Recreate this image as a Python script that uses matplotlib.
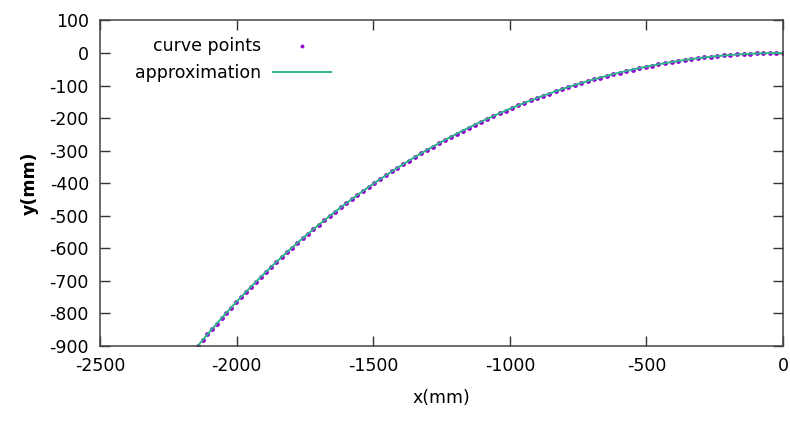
import matplotlib
matplotlib.use("Agg")
import matplotlib.pyplot as plt

# curve points (mm)
x_mm = [0.0, -24.1, -48.2, -72.3, -96.3, -120.4, -144.5, -168.5, -192.6, -216.6,
        -240.6, -264.6, -288.6, -312.5, -336.5, -360.4, -384.3, -408.2, -432.0, -455.9,
        -479.6, -503.4, -527.1, -550.8, -574.5, -598.1, -621.7, -645.2, -668.7, -692.2,
        -715.6, -739.0, -762.3, -785.6, -808.8, -831.9, -855.0, -878.1, -901.1, -924.1,
        -946.9, -969.8, -992.5, -1015.2, -1037.8, -1060.4, -1082.9, -1105.3, -1127.7, -1150.0,
        -1172.2, -1194.3, -1216.4, -1238.3, -1260.2, -1282.0, -1303.8, -1325.4, -1347.0, -1368.5,
        -1389.8, -1411.2, -1432.3, -1453.5, -1474.5, -1495.4, -1516.2, -1537.0, -1557.6, -1578.2,
        -1598.6, -1618.9, -1639.2, -1659.2, -1679.3, -1699.2, -1719.0, -1738.7, -1758.3, -1777.7,
        -1797.0, -1816.3, -1835.4, -1854.4, -1873.2, -1892.0, -1910.6, -1929.2, -1947.5, -1965.8,
        -1983.9, -2001.9, -2019.7, -2037.5, -2055.1, -2072.6, -2090.0, -2107.1, -2124.3, -2141.1]
y_mm = [0.0, -0.1, -0.4, -0.9, -1.5, -2.4, -3.5, -4.7, -6.2, -7.8,
        -9.7, -11.7, -13.9, -16.3, -18.9, -21.7, -24.7, -27.9, -31.3, -34.8,
        -38.6, -42.5, -46.7, -51.0, -55.5, -60.2, -65.1, -70.2, -75.5, -81.0,
        -86.6, -92.4, -98.5, -104.7, -111.1, -117.7, -124.6, -131.4, -138.6, -145.9,
        -153.5, -161.1, -169.0, -177.1, -185.3, -193.8, -202.3, -211.2, -220.1, -229.3,
        -238.5, -248.1, -257.7, -267.6, -277.6, -287.8, -298.2, -308.8, -319.5, -330.4,
        -341.5, -352.7, -364.1, -375.6, -387.5, -399.3, -411.5, -423.7, -436.1, -448.7,
        -461.5, -474.4, -487.5, -500.7, -514.1, -527.7, -541.4, -555.3, -569.3, -583.5,
        -597.8, -612.4, -627.0, -641.8, -656.8, -671.9, -687.2, -702.6, -718.2, -733.8,
        -749.8, -765.7, -781.9, -798.2, -814.6, -831.2, -847.9, -864.7, -881.7, -898.8]

x_ticks = [-2500, -2000, -1500, -1000, -500, 0]
y_ticks = [100, 0, -100, -200, -300, -400, -500, -600, -700, -800, -900]

plt.rcParams['font.family'] = ['DejaVu Sans']
plt.rcParams['font.size'] = 12.5
plt.rcParams['axes.unicode_minus'] = False

fig = plt.figure(figsize=(7.9, 4.25), dpi=100)
ax = fig.add_axes([0.1266, 0.186, 0.8646, 0.766])

# scatter keeps the dots centred on the line better than line markers
ax.scatter(x_mm, y_mm, s=12, linewidths=0, color='#9400d3', label='curve points')
ax.plot(x_mm, y_mm, color='#2fb58c', linewidth=1.4, label='approximation')

ax.set_xlim(-2500, 0)
ax.set_ylim(-900, 100)
ax.set_xticks(x_ticks)
ax.set_yticks(y_ticks)
ax.tick_params(direction='in', length=7, width=1, color='#333333',
               top=True, right=True, labelsize=12.5, pad=8)
for s in ax.spines.values():
    s.set_color('#444444')
    s.set_linewidth(1.1)

ax.set_xlabel('x(mm)', fontsize=12.5, labelpad=10)
ax.set_ylabel('y(mm)', fontsize=12.5, fontweight='bold', labelpad=8)

ax.legend(loc='upper right', bbox_to_anchor=(0.338, 0.95), frameon=False,
          markerfirst=False, scatterpoints=1, handlelength=3.35, handletextpad=0.65,
          borderpad=0, borderaxespad=0, labelspacing=0.55, fontsize=12.5,
          markerscale=0.8)

fig.savefig('out.png', dpi=100)
